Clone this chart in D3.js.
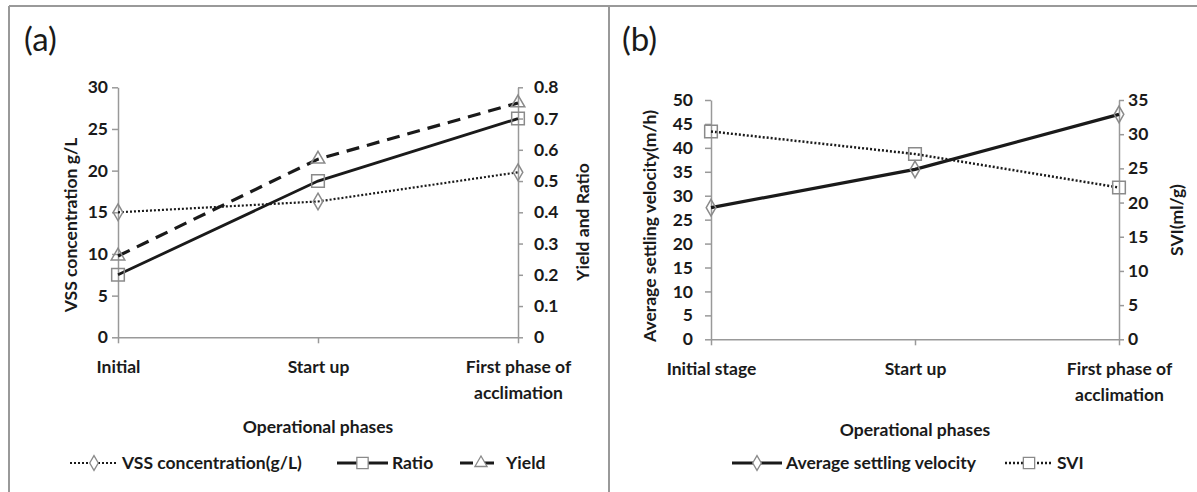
<!DOCTYPE html>
<html>
<head>
<meta charset="utf-8">
<script src="https://cdn.jsdelivr.net/npm/d3@7"></script>
<style>
  body { margin: 0; background: #fff; }
  svg text { font-family: Lato, "Open Sans", sans-serif; fill: #1a1a1a; }
  .axis path, .axis line { stroke: #999; stroke-width: 1.5; }
  .axis text { font-size: 17.5px; font-weight: 700; font-family: Lato, sans-serif; fill: #1a1a1a; }
</style>
</head>
<body>
<div id="chart"></div>
<script>
// Panel (a) data
var phasesA = ["Initial", "Start up", "First phase of\nacclimation"];
var vssConc = [15, 16.3, 19.8];
var ratio = [0.2, 0.5, 0.7];
var yieldVal = [0.26, 0.57, 0.75];
var ticksA1 = [0, 5, 10, 15, 20, 25, 30];
var ticksA2 = [0, 0.1, 0.2, 0.3, 0.4, 0.5, 0.6, 0.7, 0.8];

// Panel (b) data
var phasesB = ["Initial stage", "Start up", "First phase of\nacclimation"];
var velocity = [27.5, 35.5, 47];
var svi = [30.4, 27.1, 22.2];
var ticksB1 = [0, 5, 10, 15, 20, 25, 30, 35, 40, 45, 50];
var ticksB2 = [0, 5, 10, 15, 20, 25, 30, 35];

var width = 1197;
var height = 492;
var fontSize = '17.5px';

var svg = d3.select('#chart')
            .append('svg')
            .attr('width', width)
            .attr('height', height);

// Frame lines
svg.append('line').attr('x1', 9).attr('x2', width).attr('y1', 6).attr('y2', 6)
   .attr('stroke', '#999').attr('stroke-width', 2);
svg.append('line').attr('x1', 9).attr('x2', 9).attr('y1', 6).attr('y2', height)
   .attr('stroke', '#999').attr('stroke-width', 2);
svg.append('line').attr('x1', 609).attr('x2', 609).attr('y1', 6).attr('y2', height)
   .attr('stroke', '#999').attr('stroke-width', 2);

var markerStroke = '#8a8a8a';
var lineColor = '#1a1a1a';

function symbolPath(type, size) {
  return d3.symbol().type(type).size(size)();
}

function drawPanel(cfg) {
  var g = svg.append('g');

  var x = d3.scalePoint().domain(cfg.categories).range([cfg.left, cfg.right]);
  var y1 = d3.scaleLinear().domain([0, d3.max(cfg.ticks1)]).range([cfg.bottom, cfg.top]);
  var y2 = d3.scaleLinear().domain([0, d3.max(cfg.ticks2)]).range([cfg.bottom, cfg.top]);

  // Panel letter
  g.append('text')
   .attr('x', cfg.letterX).attr('y', 51)
   .style('font-size', '33px')
   .text(cfg.letter);

  // X axis
  var xAxis = d3.axisBottom(x).tickSize(6).tickSizeOuter(0).tickFormat('');
  var xg = g.append('g').attr('class', 'axis')
            .attr('transform', 'translate(0,' + cfg.bottom + ')')
            .call(xAxis);
  xg.selectAll('.tick').each(function(d) {
    var t = d3.select(this).append('text')
              .attr('y', cfg.xLabelY)
              .attr('text-anchor', 'middle');
    d.split('\n').forEach(function(line, i) {
      t.append('tspan').attr('x', 0).attr('dy', i === 0 ? 0 : 26).text(line);
    });
  });

  // Left axis
  var yAxis1 = d3.axisLeft(y1).tickValues(cfg.ticks1).tickSize(6).tickSizeOuter(0)
                 .tickPadding(cfg.pad1);
  g.append('g').attr('class', 'axis')
   .attr('transform', 'translate(' + cfg.left + ',0)')
   .call(yAxis1);

  // Right axis
  var yAxis2 = d3.axisRight(y2).tickValues(cfg.ticks2).tickSize(5).tickSizeOuter(0)
                 .tickPadding(cfg.pad2).tickFormat(cfg.fmt2);
  g.append('g').attr('class', 'axis')
   .attr('transform', 'translate(' + cfg.right + ',0)')
   .call(yAxis2);

  // Axis titles
  g.append('text')
   .attr('transform', 'translate(' + cfg.title1X + ',' + cfg.title1Y + ') rotate(-90)')
   .attr('text-anchor', 'middle').attr('dy', '0.35em')
   .style('font-size', fontSize).style('font-weight', 700)
   .text(cfg.title1);
  g.append('text')
   .attr('transform', 'translate(' + cfg.title2X + ',' + cfg.title2Y + ') rotate(-90)')
   .attr('text-anchor', 'middle').attr('dy', '0.35em')
   .style('font-size', fontSize).style('font-weight', 700)
   .text(cfg.title2);
  g.append('text')
   .attr('x', (cfg.left + cfg.right) / 2).attr('y', cfg.xTitleY)
   .attr('text-anchor', 'middle').attr('dy', '0.35em')
   .style('font-size', fontSize).style('font-weight', 700)
   .text('Operational phases');

  // Series
  cfg.series.forEach(function(s) {
    var yy = s.axis === 1 ? y1 : y2;
    var line = d3.line()
                 .x(function(d, i) { return x(cfg.categories[i]); })
                 .y(function(d) { return yy(d); });
    g.append('path')
     .datum(s.values)
     .attr('d', line)
     .attr('fill', 'none')
     .attr('stroke', lineColor)
     .attr('stroke-width', s.width)
     .attr('stroke-dasharray', s.dash);
    g.selectAll(null)
     .data(s.values)
     .enter()
     .append('path')
     .attr('transform', function(d, i) {
       return 'translate(' + x(cfg.categories[i]) + ',' + yy(d) + ')';
     })
     .attr('d', symbolPath(s.symbol, s.size))
     .attr('fill', 'none')
     .attr('stroke', markerStroke)
     .attr('stroke-width', 1.5);
  });

  // Legend
  cfg.series.forEach(function(s) {
    var ly = 463;
    g.append('line')
     .attr('x1', s.legX1).attr('x2', s.legX2).attr('y1', ly).attr('y2', ly)
     .attr('stroke', lineColor).attr('stroke-width', s.width)
     .attr('stroke-dasharray', s.dash);
    g.append('path')
     .attr('transform', 'translate(' + ((s.legX1 + s.legX2) / 2) + ',' + ly + ')')
     .attr('d', symbolPath(s.symbol, s.size * 0.8))
     .attr('fill', '#fff')
     .attr('stroke', markerStroke)
     .attr('stroke-width', 1.3);
    g.append('text')
     .attr('x', s.legX2 + 4).attr('y', ly).attr('dy', '0.35em')
     .style('font-size', fontSize).style('font-weight', 700)
     .text(s.name);
  });
}

drawPanel({
  letter: '(a)', letterX: 24,
  categories: phasesA,
  left: 118, right: 518, top: 87.3, bottom: 337.3,
  xLabelY: 36, xTitleY: 427,
  ticks1: ticksA1, ticks2: ticksA2,
  pad1: 4, pad2: 11,
  fmt2: function(d) { return d === 0 ? '0' : d3.format('.1f')(d); },
  title1: 'VSS concentration g/L', title1X: 71, title1Y: 225,
  title2: 'Yield and Ratio', title2X: 583, title2Y: 222,
  series: [
    { name: 'VSS concentration(g/L)', values: vssConc, axis: 1, width: 2.2, dash: '2,2',
      symbol: d3.symbolDiamond, size: 80, legX1: 70, legX2: 118 },
    { name: 'Ratio', values: ratio, axis: 2, width: 2.8, dash: null,
      symbol: d3.symbolSquare, size: 160, legX1: 337, legX2: 388 },
    { name: 'Yield', values: yieldVal, axis: 2, width: 3.2, dash: '13,8',
      symbol: d3.symbolTriangle, size: 80, legX1: 460, legX2: 502 }
  ]
});

drawPanel({
  letter: '(b)', letterX: 622,
  categories: phasesB,
  left: 711, right: 1119, top: 100, bottom: 339.3,
  xLabelY: 36, xTitleY: 430,
  ticks1: ticksB1, ticks2: ticksB2,
  pad1: 12, pad2: 4,
  fmt2: d3.format('d'),
  title1: 'Average settling velocity(m/h)', title1X: 650, title1Y: 226,
  title2: 'SVI(ml/g)', title2X: 1177, title2Y: 220,
  series: [
    { name: 'Average settling velocity', values: velocity, axis: 1, width: 3.2, dash: null,
      symbol: d3.symbolDiamond, size: 80, legX1: 732, legX2: 782 },
    { name: 'SVI', values: svi, axis: 2, width: 2.5, dash: '2,2',
      symbol: d3.symbolSquare, size: 160, legX1: 1005, legX2: 1053 }
  ]
});
</script>
</body>
</html>
